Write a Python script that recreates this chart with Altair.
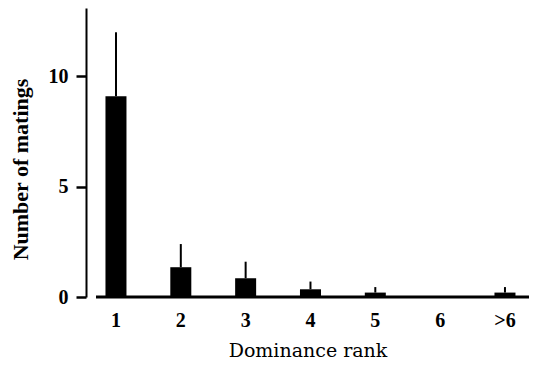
import altair as alt
import pandas as pd

ranks = ["1", "2", "3", "4", "5", "6", ">6"]
matings = [9.1, 1.35, 0.85, 0.35, 0.2, 0.0, 0.2]
upper = [12.0, 2.4, 1.6, 0.7, 0.45, 0.0, 0.45]

df = pd.DataFrame({"rank": ranks, "matings": matings, "upper": upper})

FONT = "Liberation Serif"
W, H = 443, 289

xscale = alt.Scale(domain=ranks, paddingInner=0.676, paddingOuter=0.2545, align=0.59)
yscale = alt.Scale(domain=[0, 13.1], nice=False)

xenc = alt.X(
    "rank:N", scale=xscale, sort=ranks,
    axis=alt.Axis(
        title="Dominance rank", labelAngle=0, domain=False, ticks=False,
        labelFont=FONT, labelFontWeight="bold", labelFontSize=20, labelColor="black",
        labelPadding=13, titleFont="DejaVu Serif", titleFontWeight="normal", titleFontSize=19,
        titleColor="black", titlePadding=11,
    ),
)

bars = alt.Chart(df).mark_bar(color="black").encode(
    x=xenc,
    y=alt.Y(
        "matings:Q", scale=yscale,
        axis=alt.Axis(
            values=[0, 5, 10], grid=False, domainColor="black", domainWidth=2,
            tickColor="black", tickWidth=2.5, tickSize=10,
            labelFont=FONT, labelFontWeight="bold", labelFontSize=20, labelColor="black",
            labelPadding=8, title="Number of matings", titleFont=FONT,
            titleFontWeight="bold", titleFontSize=22, titleColor="black",
            titleX=-66, titleY=161, titleBaseline="middle", titleAngle=270,
        ),
    ),
)

err = alt.Chart(df).transform_filter("datum.upper > 0").mark_rule(color="black", strokeWidth=2).encode(
    x=alt.X("rank:N", scale=xscale, sort=ranks),
    y=alt.Y("matings:Q", scale=yscale),
    y2="upper:Q",
)

base = alt.Chart(pd.DataFrame({"v": [0]})).mark_rule(color="black", strokeWidth=3).encode(
    y=alt.Y("v:Q", scale=yscale),
    x=alt.value(10),
    x2=alt.value(W),
)

chart = (
    alt.layer(bars, err, base)
    .properties(
        width=W, height=H,
        background="white",
        autosize=alt.AutoSizeParams(type="none"),
        padding={"left": 78, "top": 0, "right": 0, "bottom": 62},
    )
    .configure_view(strokeWidth=0, stroke="transparent")
)

chart.save("out.html", embed_options={"renderer": "svg", "actions": False})
